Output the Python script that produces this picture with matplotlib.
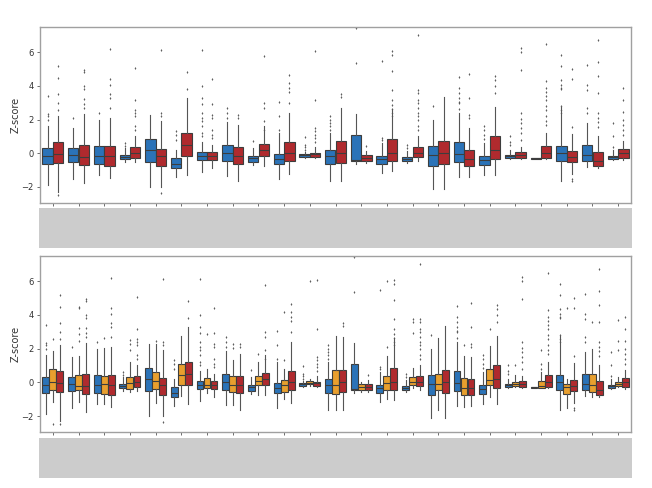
import matplotlib
matplotlib.use("Agg")
import matplotlib.pyplot as plt
from matplotlib.patches import Rectangle

categories = [f"C{i+1}" for i in range(23)]

# Each stat: (whislo, q1, med, q3, whishi, fliers)
blue = [
    (-1.9, -0.63, -0.16, 0.34, 1.6, [3.4, 2.35, 2.2, 2.0]),
    (-1.5, -0.5, -0.1, 0.3, 1.5, [2.1]),
    (-1.3, -0.62, -0.16, 0.44, 2.0, [2.4]),
    (-0.5, -0.34, -0.2, -0.1, 0.3, [0.6, 0.45]),
    (-2.0, -0.5, 0.2, 0.83, 2.28, []),
    (-1.43, -0.9, -0.63, -0.3, 0.2, [1.3, 1.1, 0.8]),
    (-1.1, -0.4, -0.16, 0.1, 0.7, [6.15, 4.0, 3.27, 2.9, 2.4, 2.1, 1.9, 1.6, 1.2, 1.0]),
    (-1.35, -0.48, 0.0, 0.48, 1.83, [2.7, 2.4, 2.1]),
    (-0.7, -0.5, -0.25, -0.16, 0.3, [0.73]),
    (-1.55, -0.63, -0.36, -0.04, 1.23, [3.07, 2.24, 1.4]),
    (-0.3, -0.2, -0.12, -0.04, 0.1, [0.95, 0.5, 0.36, 0.2]),
    (-1.63, -0.63, -0.16, 0.2, 1.2, [2.2, 2.0, 1.8, 1.6, 1.4]),
    (-0.63, -0.44, -0.4, 1.1, 2.32, [7.44, 5.36]),
    (-1.15, -0.63, -0.36, -0.16, 0.6, [5.5, 0.9, 0.8]),
    (-0.56, -0.44, -0.32, -0.24, 0.16, [0.5, 0.3]),
    (-2.14, -0.75, -0.1, 0.42, 2.0, [2.82]),
    (-1.4, -0.54, -0.04, 0.67, 2.4, [4.56, 3.87, 3.57, 3.27, 3.07, 2.98, 2.62]),
    (-1.3, -0.71, -0.4, -0.16, 0.6, [1.63, 1.4, 1.1, 0.83]),
    (-0.36, -0.28, -0.16, -0.1, 0.2, [1.05, 0.7, 0.5]),
    (-0.33, -0.32, -0.3, -0.28, -0.27, []),
    (-1.63, -0.44, 0.0, 0.44, 2.74, [5.85, 5.2, 4.37, 4.07, 3.87, 3.8, 2.78, 2.58, 2.38]),
    (-0.83, -0.48, -0.1, 0.48, 1.79, [5.26, 4.07, 3.77, 2.68, 2.38]),
    (-0.42, -0.36, -0.24, -0.16, 0.2, [1.79, 1.0, 0.4]),
]

red = [
    (-2.3, -0.56, -0.06, 0.7, 2.2, [5.16, 4.5, 3.5, 3.0, 2.6, -2.45]),
    (-1.75, -0.67, -0.2, 0.5, 2.35, [4.96, 4.8, 4.0, 3.8, 3.2, 2.9, 2.7]),
    (-1.47, -0.75, -0.16, 0.44, 2.1, [6.2, 4.4, 4.05, 3.5, 3.3, 2.7]),
    (-0.5, -0.25, 0.0, 0.35, 1.0, [5.06, 3.17, 2.6, 2.4, 2.2, 1.6, 1.4]),
    (-2.0, -0.75, -0.16, 0.24, 1.9, [6.15, 2.4, 2.2, -2.35]),
    (-1.3, -0.16, 0.5, 1.23, 3.27, [4.8, 3.8]),
    (-0.9, -0.4, -0.16, 0.1, 0.5, [4.4, 2.9, 2.3, 2.1, 1.4, 1.1, 0.9]),
    (-1.65, -0.63, -0.14, 0.36, 1.7, [2.3, 2.1]),
    (-0.73, -0.16, 0.2, 0.53, 1.6, [5.8, 3.0, 2.7, 1.9, 1.4]),
    (-1.23, -0.46, 0.0, 0.67, 2.42, [4.66, 4.17, 3.87, 3.67, 3.0]),
    (-0.3, -0.2, -0.04, 0.04, 0.36, [6.05, 3.17, 1.5, 1.3, 1.1, 0.9, 0.7]),
    (-1.63, -0.6, 0.04, 0.71, 2.68, [3.53, 3.37]),
    (-0.6, -0.48, -0.3, -0.12, 0.16, [0.44]),
    (-1.05, -0.44, 0.04, 0.85, 2.62, [6.05, 5.85, 4.9, 3.73, 3.17, 2.88, 2.62, 2.4, 2.2]),
    (-0.48, -0.2, 0.04, 0.4, 1.05, [7.0, 3.77, 3.57, 3.17, 2.98, 2.7, 2.4, 2.2, 2.0, 1.6, 1.4]),
    (-2.1, -0.63, 0.0, 0.73, 3.37, []),
    (-1.43, -0.75, -0.36, 0.2, 1.5, [4.7, 3.27, 2.28, 2.08]),
    (-1.31, -0.32, 0.2, 1.0, 2.74, [4.6, 4.37, 3.97, 3.61]),
    (-0.36, -0.28, -0.08, 0.08, 0.4, [6.25, 6.0, 4.96, 2.38, 2.04, 1.79, 1.49, 1.2, 0.8]),
    (-0.36, -0.3, 0.0, 0.44, 1.23, [6.5, 4.3, 3.87, 3.67, 3.41, 3.17, 2.82, 2.58, 2.2, 1.9, 1.7]),
    (-1.23, -0.52, -0.2, 0.14, 1.13, [5.0, 4.42, 1.59, -1.55, -1.63]),
    (-0.9, -0.73, -0.44, 0.1, 1.0, [6.75, 5.4, 4.6, 3.61, 2.38, 2.08, 1.88, 1.59]),
    (-0.42, -0.3, 0.0, 0.24, 0.75, [3.87, 3.17, 2.48, 1.98, 1.69, 1.39, 1.09]),
]

orange = [
    (-1.17, -0.44, 0.0, 0.77, 1.84, [2.55, -2.45]),
    (-1.17, -0.48, -0.22, 0.42, 1.54, [4.5, 4.44, 3.25, 2.85, 2.46]),
    (-1.27, -0.71, -0.12, 0.36, 2.04, [2.65]),
    (-0.57, -0.38, -0.04, 0.32, 1.2, [2.5, 2.26, 1.9]),
    (-1.23, -0.38, 0.06, 0.61, 2.3, [2.46]),
    (-0.83, -0.14, 0.45, 1.1, 2.73, []),
    (-0.63, -0.34, -0.14, 0.26, 0.8, [2.85]),
    (-1.37, -0.57, -0.18, 0.36, 1.35, [2.3, 2.06]),
    (-0.73, -0.18, 0.08, 0.4, 1.2, [1.7]),
    (-0.97, -0.57, -0.14, 0.16, 0.8, [4.18, 1.3]),
    (-0.2, -0.12, -0.02, 0.06, 0.2, [6.0]),
    (-1.62, -0.67, -0.18, 0.75, 2.73, []),
    (-0.57, -0.48, -0.28, -0.12, 0.0, []),
    (-0.97, -0.48, -0.04, 0.4, 1.54, [6.02, 2.1]),
    (-0.32, -0.18, 0.02, 0.32, 0.87, [3.78, 3.58, 2.9]),
    (-1.62, -0.48, -0.08, 0.51, 2.65, []),
    (-1.47, -0.77, -0.34, 0.26, 1.54, [2.2]),
    (-0.87, -0.18, 0.12, 0.81, 2.14, [3.19]),
    (-0.3, -0.24, -0.12, 0.02, 0.42, [1.0]),
    (-0.36, -0.32, -0.22, 0.06, 0.61, [1.9, 1.1, 0.81]),
    (-1.5, -0.71, -0.28, -0.08, 0.22, [4.44]),
    (-0.87, -0.57, -0.18, 0.48, 2.0, [3.58]),
    (-0.3, -0.24, -0.12, 0.02, 0.32, [3.68, 2.46, 1.9]),
]

colors = {"blue": "#2b73b8", "orange": "#e89f2e", "red": "#b02a2e"}
line_col = "#3d3d3d"

fig = plt.figure(figsize=(6.52, 4.88), dpi=100)
ax_top = fig.add_axes([40/652, 1 - 203/488, 591/652, 176/488])
ax_bot = fig.add_axes([40/652, 1 - 432/488, 591/652, 176/488])


def to_stats(rows):
    out = []
    for lo, q1, med, q3, hi, fl in rows:
        out.append(dict(whislo=lo, q1=q1, med=med, q3=q3, whishi=hi, fliers=fl))
    return out


def draw(ax, series, total_width=0.82):
    n = len(series)
    w = total_width / n
    for k, (name, rows) in enumerate(series):
        offs = -total_width / 2 + w * (k + 0.5)
        pos = [i + offs for i in range(len(categories))]
        ax.bxp(to_stats(rows), positions=pos, widths=w * 0.98, patch_artist=True,
               manage_ticks=False,
               boxprops=dict(facecolor=colors[name], edgecolor=line_col, linewidth=0.8),
               medianprops=dict(color=line_col, linewidth=0.8),
               whiskerprops=dict(color="#555555", linewidth=0.8),
               capprops=dict(linewidth=0),
               flierprops=dict(marker="d", markersize=1.0, markerfacecolor="#555555",
                               markeredgecolor="#555555", markeredgewidth=0.3,
                               linestyle="none"))
    ax.set_xlim(-0.5, len(categories) - 0.5)
    ax.set_ylim(-2.95, 7.5)
    ax.set_xticks(range(len(categories)))
    ax.set_xticklabels([])
    ax.set_yticks([-2, 0, 2, 4, 6])
    ax.set_yticklabels(["\u22122", "0", "2", "4", "6"])
    ax.tick_params(axis="both", labelsize=6, length=2.5, width=0.6, colors="#555555",
                   labelcolor="#333333", pad=2)
    ax.set_ylabel("Z-score", fontsize=7, color="#333333")
    ax.yaxis.set_label_coords(-0.032, 0.5)
    for sp in ax.spines.values():
        sp.set_color("#a0a0a0")
        sp.set_linewidth(1.0)


draw(ax_top, [("blue", blue), ("red", red)])
draw(ax_bot, [("blue", blue), ("orange", orange), ("red", red)])

# gray panels under each axes
for y0 in (1 - 248/488, 1 - 478/488):
    fig.add_artist(Rectangle((39/652, y0), 593/652, 40/488, transform=fig.transFigure,
                             facecolor="#cccccc", edgecolor="none"))

fig.savefig("out.png", dpi=100)
